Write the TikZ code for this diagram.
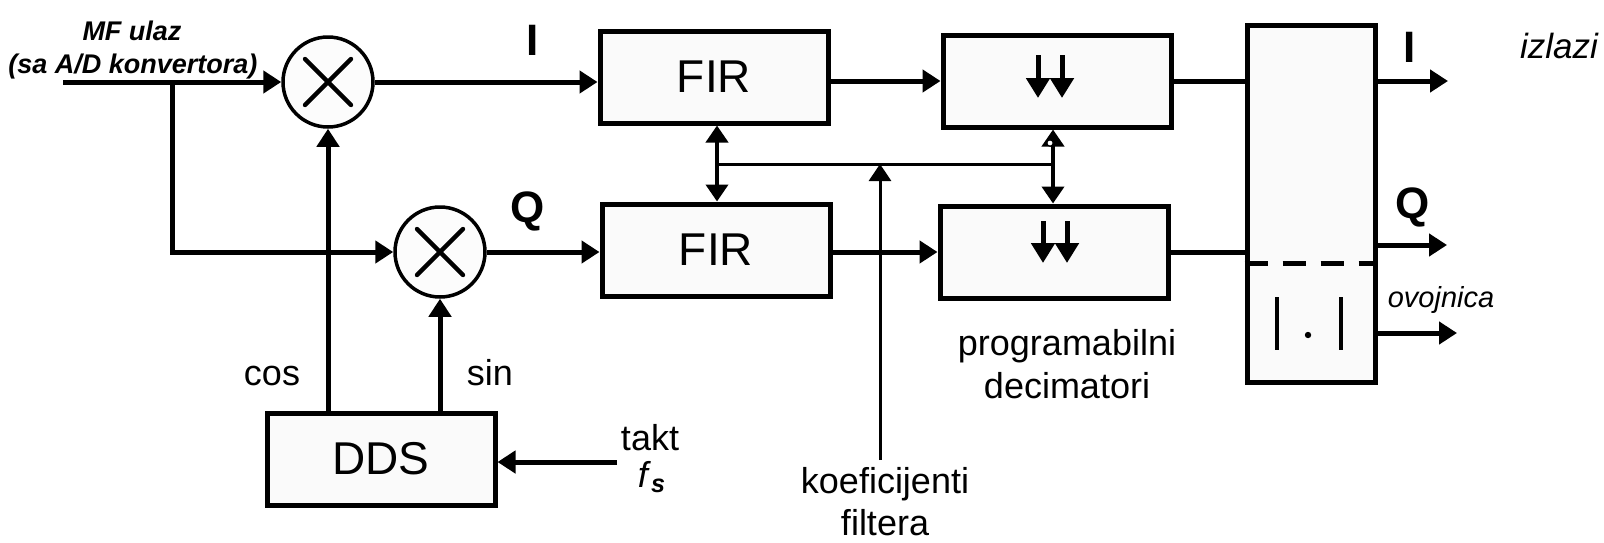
\documentclass[tikz,border=0pt]{standalone}
\usepackage{fontspec}
\setmainfont{Liberation Sans}
\usetikzlibrary{arrows.meta}

\tikzset{
  blok/.style={draw, line width=2.5pt, fill=black!2, inner sep=0pt,
    minimum width=114pt, minimum height=46pt, font=\fontsize{23}{26}\selectfont},
  mnozac/.style={draw, circle, line width=1.75pt, fill=black!1, inner sep=0pt, minimum size=45pt,
    path picture={\draw[line width=2.2pt, line cap=round]
      (path picture bounding box.center) ++(-11.5pt,-11.5pt) -- ++(23pt,23pt)
      (path picture bounding box.center) ++(-11.5pt,11.5pt) -- ++(23pt,-23pt);}},
  vod/.style={line width=2.5pt},
  signal/.style={vod, -{Triangle[length=9pt,width=11pt]}},
  dolje/.style={vod, -{Triangle[length=10pt,width=11.5pt]}},
  koef/.style={line width=1.5pt},
  koefstr/.style={koef, -{Triangle[length=8.5pt,width=11pt]}},
  dvosmjer/.style={line width=2pt, {Triangle[length=8.5pt,width=11pt]}-{Triangle[length=8.5pt,width=11pt]}},
  opis/.style={font=\fontsize{18}{21.5}\selectfont, inner sep=0pt, anchor=base},
  oznaka/.style={font=\fontsize{22}{26}\selectfont\bfseries, inner sep=0pt},
  kurziv/.style={font=\fontsize{14.5}{17}\selectfont\itshape, inner sep=0pt, anchor=base},
}

\begin{document}
\begin{tikzpicture}[x=0.5pt, y=-0.5pt]
  \useasboundingbox (0,0) rectangle (1604,542);

  % blokovi
  \node[mnozac] (Mix1) at (328,82) {};
  \node[mnozac] (Mix2) at (440,252) {};
  \node[blok] (Fir1) at (714,77) {FIR};
  \node[blok] (Fir2) at (716,250) {FIR};
  \node[blok] (Dec1) at (1057,81) {};
  \node[blok] (Dec2) at (1054,252) {};
  \node[blok] (Dds) at (381,459) {DDS};
  \node[blok, minimum width=64pt, minimum height=178.5pt] (Izl) at (1311,203.5) {};

  % tocke
  \coordinate (Ulaz) at (63,82);
  \coordinate (Grana) at (172,82);
  \coordinate (Takt) at (617,462);
  \coordinate (KFir) at (717,164);
  \coordinate (KDec) at (1053,164);
  \coordinate (Koef) at (880,460);
  \coordinate (IzlI) at (1448,81);
  \coordinate (IzlQ) at (1447,245);
  \coordinate (IzlOv) at (1457,333);
  \coordinate (Crta) at (0,263);

  % signali
  \draw[signal] (Ulaz) -- (Mix1);
  \draw[signal] (Grana) |- (Mix2);
  \draw[signal] (Mix1) -- (Fir1.west |- Mix1);
  \draw[signal] (Mix2) -- (Fir2.west |- Mix2);
  \draw[signal] (Fir1.east |- Dec1.west) -- (Dec1.west);
  \draw[signal] (Fir2.east |- Dec2.west) -- (Dec2.west);
  \draw[vod] (Dec1.east) -- (Izl.west |- Dec1.east);
  \draw[vod] (Dec2.east) -- (Izl.west |- Dec2.east);
  \draw[signal] (Izl.east |- IzlI) -- (IzlI);
  \draw[signal] (Izl.east |- IzlQ) -- (IzlQ);
  \draw[signal] (Izl.east |- IzlOv) -- (IzlOv);
  \draw[signal] (Dds.north -| Mix1) -- (Mix1);
  \draw[signal] (Dds.north -| Mix2) -- (Mix2);
  \draw[signal] (Takt) -- (Dds.east |- Takt);

  % koeficijenti
  \draw[dvosmjer] (KFir |- Fir1.south) -- (KFir |- Fir2.north);
  \draw[dvosmjer] (KDec |- Dec1.south) -- (KDec |- Dec2.north);
  \draw[koef] (KFir) -- (KDec);
  \draw[koefstr] (Koef) -- (Koef |- KFir);
  \draw[fill=white, line width=0.6pt] (1050,143) circle (1.6pt);

  % decimatori
  \foreach \x in {1038,1062}
    \draw[dolje] (\x,55) -- (\x,98);
  \foreach \x in {1043,1067}
    \draw[dolje] (\x,221) -- (\x,263);

  % izlazni blok
  \draw[vod, dash pattern=on 11.5pt off 7.5pt] (Izl.west |- Crta) -- (Izl.east |- Crta);
  \draw[line width=2pt] (1277,297) -- (1277,350) (1341,297) -- (1341,350);
  \fill (1308,335) circle (1.6pt);

  % natpisi
  \node[kurziv, font=\fontsize{13.5}{16}\selectfont\bfseries\itshape, anchor=center] (MF) at (132,31) {MF ulaz};
  \node[kurziv, font=\fontsize{13.5}{16}\selectfont\bfseries\itshape, anchor=center] (MFsa) at (133,67) {(sa A/D konvertora)};
  \node[oznaka] (LI) at (533,40) {I};
  \node[oznaka] (LQ) at (528,211) {Q};
  \node[opis] (LCos) at (272,385) {cos};
  \node[opis] (LSin) at (490,385) {sin};
  \node[opis] (LTakt) at (650,450) {takt};
  \node[opis] (LFs) at (652,487) {\textit{f}\textsubscript{\textit{\bfseries s}}};
  \node[opis] (LProg) at (1067,355) {programabilni};
  \node[opis] (LDec) at (1067,398) {decimatori};
  \node[opis] (LKoef) at (885,493) {koeficijenti};
  \node[opis] (LFilt) at (885,535) {filtera};
  \node[oznaka] (LIzlI) at (1410,47) {I};
  \node[oznaka, anchor=base] (LIzlQ) at (1413,218) {Q};
  \node[kurziv] (LOv) at (1441,307) {ovojnica};
  \node[kurziv, font=\fontsize{17.5}{20}\selectfont\itshape] (LIzl) at (1559,58) {izlazi};
\end{tikzpicture}
\end{document}
